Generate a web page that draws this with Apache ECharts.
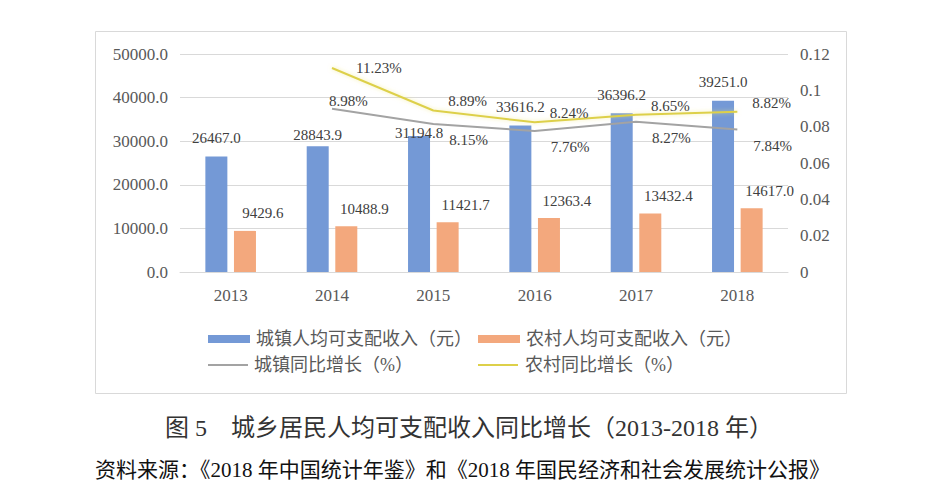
<!DOCTYPE html>
<html>
<head>
<meta charset="utf-8">
<script src="https://cdn.jsdelivr.net/npm/echarts@6/dist/echarts.min.js"></script>
<style>html,body{margin:0;padding:0;background:#fff}#c{width:945px;height:485px}</style>
</head>
<body>
<div id="c"></div>
<script>
const years = ['2013','2014','2015','2016','2017','2018'];
const urbanIncome = [26467.0, 28843.9, 31194.8, 33616.2, 36396.2, 39251.0];
const ruralIncome = [9429.6, 10488.9, 11421.7, 12363.4, 13432.4, 14617.0];
const urbanGrowthPct = [null, 8.98, 8.15, 7.76, 8.27, 7.84];
const ruralGrowthPct = [null, 11.23, 8.89, 8.24, 8.65, 8.82];
const leftTicks = [0, 10000, 20000, 30000, 40000, 50000];
const rightTicks = [0, 0.02, 0.04, 0.06, 0.08, 0.1, 0.12];
const seriesNames = ['城镇人均可支配收入（元）','农村人均可支配收入（元）','城镇同比增长（%）','农村同比增长（%）'];
const titleText = '图 5　城乡居民人均可支配收入同比增长（2013-2018 年）';
const sourceText = '资料来源：《2018 年中国统计年鉴》和《2018 年国民经济和社会发展统计公报》';

const SERIF = "'Liberation Serif','Noto Sans CJK SC',serif";
const labelColor = '#404040';
const urbanColor = '#7499d6', ruralColor = '#f3a87d', urbanLineColor = '#a3a3a3', ruralLineColor = '#ddd04a';

const chart = echarts.init(document.getElementById('c'), null, {renderer: 'svg'});

// special label placement for crowded points (by category index)
const blueLabelOverride = {1: {distance: 4}, 2: {distance: -5}};
const urbanFirst = {offset: [-8, -8]};
const ruralFirst = {offset: [19, 0]};

const blueData = urbanIncome.map((v, i) => blueLabelOverride[i] ? {value: v, label: blueLabelOverride[i]} : v);
const urbanLine = urbanGrowthPct.map((v, i) => v == null ? null : (i === 1 ? {value: v / 100, label: urbanFirst} : v / 100));
const ruralLine = ruralGrowthPct.map((v, i) => v == null ? null : (i === 1 ? {value: v / 100, label: ruralFirst} : v / 100));

const legendBase = {
  orient: 'horizontal', padding: 0, itemGap: 0,
  textStyle: {fontFamily: SERIF, fontSize: 18, color: '#595959', padding: [0,0,0,1]},
  selectedMode: false
};
const lineIcon = 'path://M0 0H40V2H0Z';

chart.setOption({
  animation: false,
  backgroundColor: '#ffffff',
  grid: {left: 180, right: 157, top: 54, bottom: 213},
  xAxis: {
    type: 'category', data: years,
    axisLine: {lineStyle: {color: '#d9d9d9', width: 1}},
    axisTick: {show: false},
    axisLabel: {fontFamily: SERIF, fontSize: 17, color: '#595959', margin: 15}
  },
  yAxis: [{
    type: 'value', min: leftTicks[0], max: leftTicks[leftTicks.length - 1], interval: leftTicks[1] - leftTicks[0],
    axisLine: {show: false}, axisTick: {show: false},
    splitLine: {lineStyle: {color: '#d9d9d9', width: 1}},
    axisLabel: {fontFamily: SERIF, fontSize: 17, color: '#595959', margin: 12, formatter: v => v.toFixed(1)}
  }, {
    type: 'value', min: rightTicks[0], max: rightTicks[rightTicks.length - 1], interval: 0.02,
    axisLine: {show: false}, axisTick: {show: false}, splitLine: {show: false},
    axisLabel: {fontFamily: SERIF, fontSize: 17, color: '#595959', margin: 12,
      formatter: v => String(parseFloat(v.toFixed(2)))}
  }],
  legend: [
    Object.assign({}, legendBase, {left: 208, top: 330, data: [{name: seriesNames[0], icon: 'rect'}], itemWidth: 42, itemHeight: 8}),
    Object.assign({}, legendBase, {left: 478, top: 330, data: [{name: seriesNames[1], icon: 'rect'}], itemWidth: 42, itemHeight: 8}),
    Object.assign({}, legendBase, {left: 208, top: 356, data: [{name: seriesNames[2], icon: lineIcon, itemStyle: {color: urbanLineColor}}], itemWidth: 40, itemHeight: 2}),
    Object.assign({}, legendBase, {left: 478, top: 356, data: [{name: seriesNames[3], icon: lineIcon, itemStyle: {color: ruralLineColor}}], itemWidth: 42, itemHeight: 2})
  ],
  series: [{
    name: seriesNames[0], type: 'bar', data: blueData, barWidth: 22, barGap: '30%',
    itemStyle: {color: urbanColor},
    label: {show: true, position: 'top', distance: 11, fontFamily: SERIF, fontSize: 15, color: labelColor,
      formatter: p => p.value.toFixed(1)}
  }, {
    name: seriesNames[1], type: 'bar', data: ruralIncome, barWidth: 22,
    itemStyle: {color: ruralColor},
    label: {show: true, position: 'top', distance: 10, offset: [18, 0], fontFamily: SERIF, fontSize: 15, color: labelColor,
      formatter: p => p.value.toFixed(1)}
  }, {
    name: seriesNames[2], type: 'line', yAxisIndex: 1, data: urbanLine,
    symbol: 'circle', symbolSize: 0.01, showSymbol: true,
    lineStyle: {color: urbanLineColor, width: 2}, itemStyle: {color: urbanLineColor},
    label: {show: true, position: 'right', distance: 5, offset: [11, 16], fontFamily: SERIF, fontSize: 15, color: labelColor,
      formatter: p => (p.value * 100).toFixed(2) + '%'}
  }, {
    name: seriesNames[3], type: 'line', yAxisIndex: 1, data: ruralLine,
    symbol: 'circle', symbolSize: 0.01, showSymbol: true,
    lineStyle: {color: ruralLineColor, width: 2, shadowColor: 'rgba(240,230,120,0.6)', shadowBlur: 4}, itemStyle: {color: ruralLineColor},
    label: {show: true, position: 'right', distance: 5, offset: [10, -9], fontFamily: SERIF, fontSize: 15, color: labelColor,
      formatter: p => (p.value * 100).toFixed(2) + '%'}
  }],
  graphic: [{
    type: 'rect', silent: true,
    shape: {x: 95.5, y: 31.5, width: 751, height: 362},
    style: {fill: 'none', stroke: '#d9d9d9', lineWidth: 1}
  }, {
    type: 'text', silent: true, x: 469, y: 428,
    style: {text: titleText, font: "24px 'Liberation Serif','Noto Sans CJK SC',serif", fill: '#333333',
      textAlign: 'center', textVerticalAlign: 'middle'}
  }, {
    type: 'text', silent: true, x: 95, y: 470,
    style: {text: sourceText, font: "21px 'Liberation Serif','Noto Sans CJK SC',serif", fill: '#111111',
      textAlign: 'left', textVerticalAlign: 'middle'}
  }]
});
</script>
</body>
</html>
